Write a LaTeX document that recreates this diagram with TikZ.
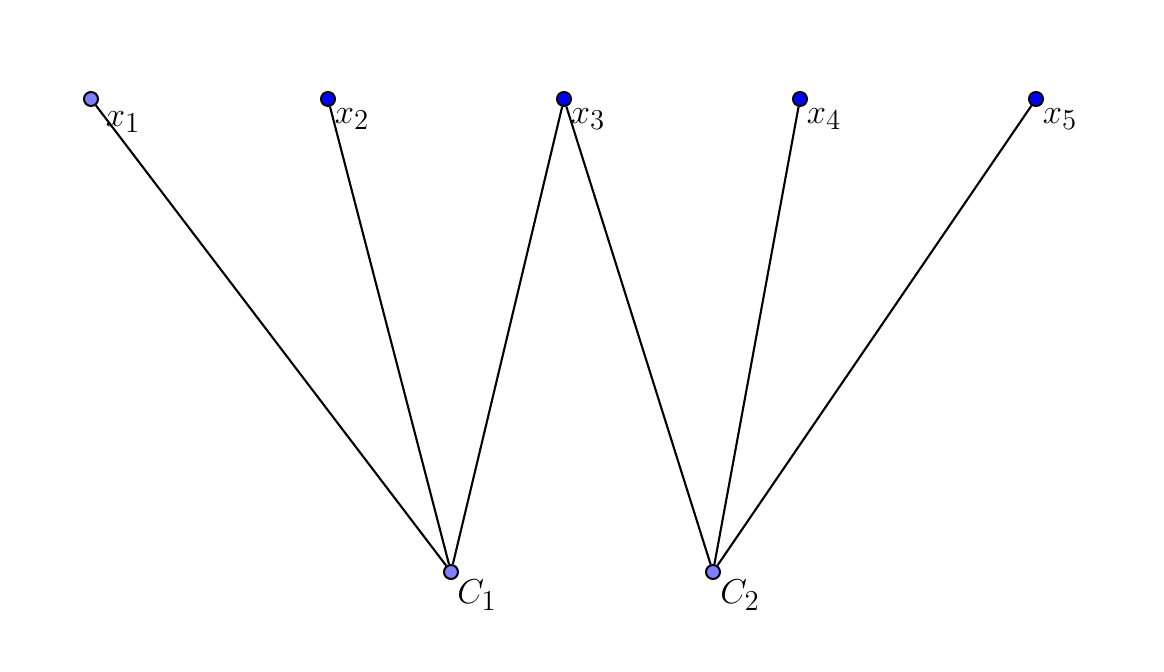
\documentclass[tikz,border=0pt]{standalone}
\definecolor{lightpt}{HTML}{7F7FFF}
\definecolor{darkpt}{HTML}{0000FF}
\begin{document}
\begin{tikzpicture}[x=0.5pt,y=-0.5pt,
  pt/.style={circle,draw=black,line width=1pt,minimum size=7pt,inner sep=0pt},
  lp/.style={pt,fill=lightpt},
  dp/.style={pt,fill=darkpt},
  lbl/.style={inner sep=0pt,font=\fontsize{19}{23}\selectfont},
  edge/.style={line width=1.05pt}]
\useasboundingbox (0,0) rectangle (1164,672);
\node[lp] (x1) at (91,99) {};
\node[dp] (x2) at (328,99) {};
\node[dp] (x3) at (564,99) {};
\node[dp] (x4) at (800,99) {};
\node[dp] (x5) at (1036,99) {};
\node[lp] (c1) at (451,572) {};
\node[lp] (c2) at (713,572) {};
\draw[edge] (x1) -- (c1);
\draw[edge] (x2) -- (c1);
\draw[edge] (x3) -- (c1);
\draw[edge] (x3) -- (c2);
\draw[edge] (x4) -- (c2);
\draw[edge] (x5) -- (c2);
\node[lbl] (lx1) at (123,122) {$x_1$};
\node[lbl] (lx2) at (352,119) {$x_2$};
\node[lbl] (lx3) at (588,119) {$x_3$};
\node[lbl] (lx4) at (824,119) {$x_4$};
\node[lbl] (lx5) at (1060,119) {$x_5$};
\node[lbl] (lc1) at (477,595) {$C_1$};
\node[lbl] (lc2) at (740,595) {$C_2$};
\end{tikzpicture}
\end{document}
